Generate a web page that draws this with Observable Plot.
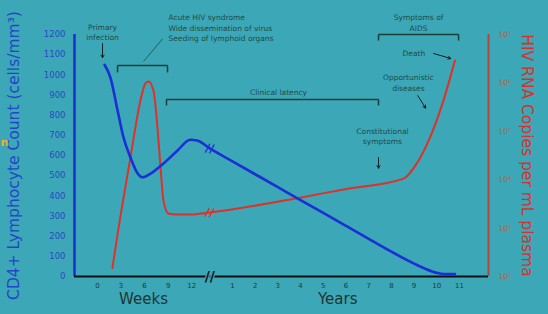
<!DOCTYPE html>
<html>
<head>
<meta charset="utf-8">
<script src="https://cdn.jsdelivr.net/npm/d3@7"></script>
<script src="https://cdn.jsdelivr.net/npm/@observablehq/plot@0.6"></script>
<style>
  html, body { margin: 0; padding: 0; background: #3ca7b6; }
  #chart { width: 548px; height: 314px; overflow: hidden; }
  svg { font-family: "DejaVu Sans", sans-serif; }
</style>
</head>
<body>
<div id="chart"></div>
<script>
// ---- data ----
// CD4 count, acute phase (weeks)
const cd4WeekT = [0.9, 1.66, 2.55, 3.31, 4.2, 5.1, 5.7, 6.75, 8.4, 10.2, 11.8, 12.7];
const cd4WeekV = [1050, 985, 825, 690, 590, 512, 492, 510, 560, 625, 678, 674];
// CD4 count, chronic phase (years)
const cd4YearT = [0, 1, 2, 3, 4, 5, 6, 7, 8, 9, 9.5, 10, 10.3, 10.8];
const cd4YearV = [635, 571, 507, 443, 379, 315, 251, 187, 123, 64, 38, 18, 12, 12];
// HIV RNA copies per mL, acute phase (weeks)
const rnaWeekT = [1.9, 2.68, 4.2, 5.48, 6.11, 6.5, 7.13, 7.64, 8.03, 8.4, 9.04, 10, 11.85];
const rnaWeekV = [150, 1000, 29000, 440000, 980000, 1070000, 690000, 120000, 18000, 3700, 2000, 1900, 1900];
// HIV RNA copies per mL, chronic phase (years)
const rnaYearT = [0, 3.8, 5.9, 8.54, 9.1, 9.7, 10.3, 10.8];
const rnaYearV = [2100, 4100, 6300, 10500, 21000, 74000, 440000, 2900000];

// tick labels
const weekTicks = [0, 3, 6, 9, 12];
const yearTicks = [1, 2, 3, 4, 5, 6, 7, 8, 9, 10, 11];
const cd4Ticks = [0, 100, 200, 300, 400, 500, 600, 700, 800, 900, 1000, 1100, 1200];
const rnaTicks = [2, 3, 4, 5, 6, 7];
const sup = ["⁰","¹","²","³","⁴","⁵","⁶","⁷","⁸","⁹"];

// ---- continuous time axis: weeks, a break, then years ----
const YEAR0 = 14.3, YEAR_W = 2.892;
const wk = w => w;
const yr = y => YEAR0 + YEAR_W * y;
// log RNA onto the shared vertical range (10^2 .. 10^7  <->  0 .. 1200)
const rnaY = v => (Math.log10(v) - 2) / 5 * 1200;
const expY = e => (e - 2) / 5 * 1200;

const cd4 = [
  ...cd4WeekT.map((t, i) => ({t: wk(t), v: cd4WeekV[i]})),
  ...cd4YearT.map((t, i) => ({t: yr(t), v: cd4YearV[i]}))
];
const rna = [
  ...rnaWeekT.map((t, i) => ({t: wk(t), v: rnaY(rnaWeekV[i])})),
  ...rnaYearT.map((t, i) => ({t: yr(t), v: rnaY(rnaYearV[i])}))
];

const xTickVals = [...weekTicks.map(wk), ...yearTicks.map(yr)];
const xTickLab = new Map([...weekTicks.map(w => [wk(w), String(w)]), ...yearTicks.map(y => [yr(y), String(y)])]);

// annotation layout (in week-axis / CD4 units)
const notesCentered = [
  {t: 0.64, v: 1215, text: "Primary\ninfection"},
  {t: 23.06, v: 917, text: "Clinical latency"},
  {t: 40.9, v: 1262, text: "Symptoms of\nAIDS"},
  {t: 40.3, v: 1111, text: "Death"},
  {t: 39.6, v: 964, text: "Opportunistic\ndiseases"},
  {t: 36.3, v: 699, text: "Constitutional\nsymptoms"}
];
const notesLeft = [
  {t: 9.04, v: 1235, text: "Acute HIV syndrome\nWide dissemination of virus\nSeeding of lymphoid organs"}
];
const arrows = [
  {x1: 0.64, y1: 1155, x2: 0.64, y2: 1085},
  {x1: 42.8, y1: 1106, x2: 45.0, y2: 1081},
  {x1: 40.8, y1: 897, x2: 41.8, y2: 835},
  {x1: 35.8, y1: 590, x2: 35.8, y2: 537}
];
const brackets = [
  {a: 2.55, b: 8.92, v: 1046, d: 34},
  {a: 8.79, b: 35.8, v: 878, d: 30},
  {a: 35.8, b: 46.0, v: 1200, d: 30}
];
const bracketLines = brackets.flatMap(k => [
  {x1: k.a, x2: k.b, y1: k.v, y2: k.v},
  {x1: k.a, x2: k.a, y1: k.v, y2: k.v - k.d},
  {x1: k.b, x2: k.b, y1: k.v, y2: k.v - k.d}
]);
const leader = [{x1: 5.86, y1: 1066, x2: 8.28, y2: 1178}];

const XMIN = -2.93, XMAX = 49.81;
const ink = "#1f4c47";
const blue = "#1b2fd6";
const red = "#e0302a";

const chart = Plot.plot({
  width: 548, height: 314,
  marginLeft: 74, marginRight: 60, marginTop: 34, marginBottom: 38,
  style: {background: "transparent", overflow: "visible", fontFamily: "DejaVu Sans, sans-serif"},
  x: {domain: [XMIN, XMAX], axis: null},
  y: {domain: [0, 1200], axis: null},
  marks: [
    // axes lines
    Plot.ruleX([XMIN], {y1: 0, y2: 1200, stroke: "#1a2fcf", strokeWidth: 2.5}),
    Plot.ruleX([XMAX], {y1: 0, y2: 1200, stroke: "#b0473a", strokeWidth: 2}),
    Plot.ruleY([0], {stroke: "#111", strokeWidth: 2}),
    // left ticks
    Plot.axisY(cd4Ticks, {anchor: "left", tickSize: 0, tickPadding: 9, fill: "#2a48c8", fontSize: 8.5, label: null,
      tickFormat: d => String(d)}),
    // right ticks (log RNA)
    Plot.axisY(rnaTicks.map(expY), {anchor: "right", tickSize: 0, tickPadding: 10, fill: "#c45a48", fontSize: 7.5, label: null,
      tickFormat: d => "10" + sup[Math.round(d / 1200 * 5 + 2)]}),
    // bottom ticks
    Plot.axisX(xTickVals, {anchor: "bottom", tickSize: 0, tickPadding: 7, fill: "#1e3a3a", fontSize: 7, label: null,
      tickFormat: d => xTickLab.get(d)}),
    // axis break on x axis
    Plot.text(["//"], {x: yr(0), y: 0, text: d => d, fill: "#111", stroke: "#3ca7b6", strokeWidth: 2.5, paintOrder: "stroke", fontSize: 14, fontWeight: "bold"}),
    // curves
    Plot.line(rna, {x: "t", y: "v", stroke: red, strokeWidth: 2, curve: "monotone-x"}),
    Plot.line(cd4, {x: "t", y: "v", stroke: blue, strokeWidth: 2.6, curve: "monotone-x"}),
    // breaks on curves
    Plot.text([{t: yr(0), v: 635}], {x: "t", y: "v", text: () => "//", fill: blue, fontSize: 12, fontWeight: "bold", rotate: 10}),
    Plot.text([{t: yr(0), v: rnaY(2100)}], {x: "t", y: "v", text: () => "//", fill: red, fontSize: 12, fontWeight: "bold", rotate: 10}),
    // brackets and pointers
    Plot.link(bracketLines, {x1: "x1", y1: "y1", x2: "x2", y2: "y2", stroke: "#1d3d38", strokeWidth: 1.5}),
    Plot.link(leader, {x1: "x1", y1: "y1", x2: "x2", y2: "y2", stroke: "#1d3d38", strokeWidth: 0.7}),
    Plot.arrow(arrows, {x1: "x1", y1: "y1", x2: "x2", y2: "y2", stroke: "#111", strokeWidth: 0.9, headLength: 5, bend: 0}),
    Plot.text(notesCentered, {x: "t", y: "v", text: "text", textAnchor: "middle", lineAnchor: "middle", lineHeight: 1.4, fill: ink, fontSize: 7.5}),
    Plot.text(notesLeft, {x: "t", y: "v", text: "text", textAnchor: "start", lineAnchor: "middle", lineHeight: 1.4, fill: ink, fontSize: 7.5}),
    // axis titles
    Plot.text(["CD4+ Lymphocyte Count (cells/mm³)"], {frameAnchor: "left", textAnchor: "middle", rotate: -90, dx: -60, text: d => d, fill: "#2346c8", fontSize: 15.5}),
    Plot.text(["HIV RNA Copies per mL plasma"], {frameAnchor: "right", textAnchor: "middle", rotate: 90, dx: 38, text: d => d, fill: "#d8302c", fontSize: 15.5}),
    Plot.text([{t: 5.86, label: "Weeks"}, {t: 30.6, label: "Years"}], {x: "t", frameAnchor: "bottom", dy: 27, text: "label", fill: "#1c3535", fontSize: 15}),
    Plot.text(["n"], {frameAnchor: "left", dx: -74, dy: -13, text: d => d, fill: "#f2b21a", fontSize: 11, fontWeight: "bold", textAnchor: "start"})
  ]
});
document.getElementById("chart").appendChild(chart);
</script>
</body>
</html>
